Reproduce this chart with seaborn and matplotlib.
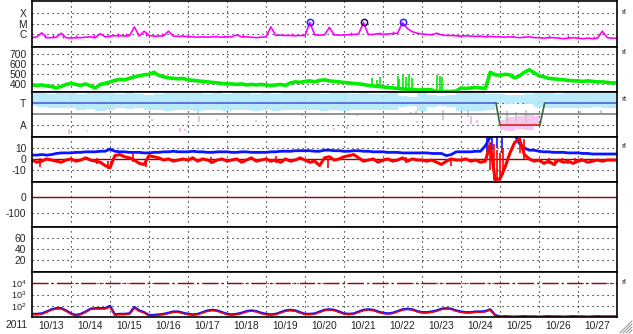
import numpy as np
import matplotlib
matplotlib.use("Agg")
import matplotlib.pyplot as plt
import seaborn as sns
from matplotlib.lines import Line2D
from matplotlib.ticker import NullLocator

# ---------------- data (hours since 2011-10-13 00:00, 3-hour samples) ----------------
hours3 = np.arange(0, 361, 3)
hours6 = np.arange(0, 361, 6)
day_labels = ["10/13", "10/14", "10/15", "10/16", "10/17", "10/18", "10/19", "10/20",
              "10/21", "10/22", "10/23", "10/24", "10/25", "10/26", "10/27"]
year_label = "2011"

# GOES X-ray flux (1e-6 W/m^2)
xray_uW = [0.5, 0.6, 1.4, 0.5, 0.5, 0.55, 1.3, 0.5,
           0.45, 0.5, 0.5, 0.55, 0.6, 0.5, 1.2, 0.6,
           0.7, 0.75, 0.8, 0.7, 0.75, 5.0, 0.7, 2.0,
           0.8, 0.7, 0.7, 0.75, 2.0, 0.7, 0.65, 0.7,
           0.6, 0.6, 0.55, 0.6, 0.55, 0.6, 0.6, 0.55,
           0.6, 0.6, 0.9, 0.6, 0.6, 0.55, 0.5, 0.55,
           0.6, 5.0, 0.8, 0.85, 0.8, 0.8, 0.75, 0.8,
           0.8, 13.0, 0.9, 0.85, 0.9, 4.5, 0.9, 0.85,
           0.9, 0.95, 1.0, 1.1, 13.0, 0.95, 1.0, 1.2,
           1.0, 1.1, 1.2, 1.3, 13.0, 3.5, 1.8, 1.3,
           1.1, 1.0, 0.9, 1.3, 0.9, 0.8, 0.8, 0.75,
           0.7, 0.75, 0.7, 0.65, 0.7, 0.6, 0.65, 0.6,
           0.6, 0.55, 0.6, 0.55, 0.5, 0.55, 0.6, 0.5,
           0.5, 0.45, 0.5, 0.5, 0.45, 0.4, 0.45, 0.5,
           0.45, 0.4, 0.45, 0.4, 0.45, 2.0, 0.5, 0.45,
           0.45]
xray_spk_hours = [8, 13, 19, 27, 38, 53, 58, 70, 80, 96, 118, 130, 160, 185, 196, 214, 222,
                  246, 262, 280, 296, 318, 330, 346]
xray_spk_lo = [0.5, 0.5, 0.5, 0.5, 0.5, 0.6, 0.7, 0.7, 0.7, 0.6, 0.6, 0.6, 0.8, 0.9, 0.95, 1.1, 1.2,
               0.9, 0.7, 0.65, 0.55, 0.5, 0.45, 0.45]
xray_spk_hi = [1.1, 1.2, 0.9, 0.9, 1.0, 1.3, 1.5, 1.6, 1.3, 1.0, 0.9, 1.0, 1.5, 1.5, 1.6, 1.8, 2.0,
               1.5, 1.1, 1.0, 0.9, 0.8, 0.8, 0.75]
flare_hours = [171, 204, 228]
flare_peaks = [13.0, 13.0, 13.0]
flare_colors = ["#2020ff", "#101060", "#2020ff"]

# Solar wind speed (km/s)
speed = [390, 385, 390, 380, 375, 360, 375, 395,
         405, 395, 385, 400, 380, 360, 395, 405,
         420, 435, 445, 440, 455, 470, 480, 490,
         495, 515, 485, 470, 460, 455, 450, 455,
         440, 435, 430, 425, 420, 415, 410, 405,
         400, 400, 395, 400, 390, 395, 390, 395,
         390, 385, 390, 395, 385, 410, 420, 415,
         425, 430, 420, 435, 440, 430, 425, 420,
         415, 410, 405, 400, 395, 385, 380, 375,
         370, 365, 360, 355, 350, 345, 345, 340,
         340, 345, 340, 325, 325, 325, 325, 330,
         360, 355, 360, 365, 360, 355, 515, 490,
         485, 495, 490, 460, 480, 515, 540, 510,
         480, 470, 455, 450, 445, 440, 435, 430,
         430, 425, 430, 425, 420, 420, 415, 410,
         410]
speed_spike_hours = [209, 212, 214, 225, 226, 228, 230, 232, 234, 249, 251, 252]
speed_spike_low = [370, 365, 365, 355, 355, 355, 350, 350, 350, 340, 340, 340]
speed_spike_high = [460, 440, 470, 480, 450, 490, 470, 500, 460, 490, 480, 470]

# Plasma region panel (T / A levels)
band_top = [3.85, 3.85, 3.8, 3.85, 3.85, 3.8, 3.85, 3.85, 3.85, 3.8, 3.85, 3.8,
            3.7, 3.8, 3.85, 3.85, 3.85, 3.85, 3.8, 3.85, 3.8, 3.85, 3.85, 3.8,
            3.85, 3.8, 3.85, 3.85, 3.85, 3.85, 3.8, 3.85, 3.85, 3.8, 3.85, 3.8,
            3.8, 3.85, 3.6, 3.5, 3.85, 3.7, 3.6, 3.7, 3.85, 3.85, 3.85, 3.8,
            3.8, 3.7, 3.7, 3.75, 3.85, 3.85, 3.8, 3.85, 3.85, 3.85, 3.85, 3.85,
            3.85]
band_bot = [2.7, 2.6, 2.5, 2.55, 2.5, 2.4, 2.45, 2.3, 2.4, 2.5, 2.45, 2.5,
            2.35, 2.4, 2.3, 2.4, 2.4, 2.3, 2.35, 2.4, 2.3, 2.4, 2.35, 2.3,
            2.35, 2.3, 2.4, 2.35, 2.4, 2.35, 2.3, 2.4, 2.3, 2.4, 2.35, 2.4,
            2.4, 2.35, 2.6, 2.7, 2.3, 2.6, 2.7, 2.6, 2.3, 2.25, 2.3, 2.4,
            3.0, 2.9, 3.0, 2.9, 2.6, 2.5, 2.55, 2.5, 2.55, 2.5, 2.6, 2.55,
            2.55]
state_hours = [0, 285.5, 288, 312.5, 315.5, 360]
state_level = [3, 3, 1, 1, 3, 3]
state_colors = ["#4a62d8", "#2f6b3a", "#e02020", "#2f6b3a", "#4a62d8"]
pink_hours = [288, 294, 300, 306, 312]
pink_lo = [0.6, 0.5, 0.7, 0.6, 0.9]
pink_hi = [1.5, 1.7, 1.8, 1.9, 1.8]
pink_spk_hours = [23, 34, 74, 91, 94, 103, 114, 138, 186, 194, 212, 237, 270, 274]
pink_spk_lo = [0.2, 0.4, 1.4, 0.4, 0.5, 1.3, 1.4, 1.25, 0.55, 0.7, 0.3, 1.2, 1.1, 1.2]
pink_spk_hi = [0.65, 0.5, 1.6, 0.8, 0.7, 1.8, 1.6, 1.45, 0.75, 0.9, 0.5, 1.35, 1.8, 1.5]
gray_spk_hours = [102, 166, 200, 233, 236, 253, 268, 292, 298, 304, 337, 350]
gray_spk_lo = [2.0, 1.8, 1.8, 1.9, 2.0, 1.5, 1.7, 1.1, 1.3, 1.2, 1.9, 2.1]
gray_spk_hi = [2.3, 2.0, 2.0, 2.2, 2.3, 2.4, 2.4, 2.3, 2.2, 2.4, 2.3, 2.4]

# IMF Bz (red) and Bt (blue), nT
bz = [-1, -3, -2, 0, -1, -2, -3, -1,
      0, -2, -1, 1, -1, -2, -3, -6,
      -8, 3, 4, 2, 1, -1, -4, -5,
      3, 2, 1, -1, 0, -2, -1, 0,
      -1, 1, -2, 0, -1, -3, -1, 0,
      -2, -1, 0, -3, -1, 1, -2, -1,
      0, -2, -1, -3, 0, -2, -1, 1,
      -1, -3, -2, -6, 1, 2, -1, 0,
      2, 3, 4, 1, -2, -1, 0, -3,
      -1, 0, -2, -1, 1, -2, 0, -1,
      -1, -2, -1, -3, -5, -2, 0, -1,
      -1, 0, -2, -1, -3, -2, 14, -19,
      -18, -8, 5, 15, 18, 4, 0, -2,
      -1, -4, -2, -5, -1, -3, -2, -4,
      -2, -1, -3, -2, -1, -2, -1, -1,
      -1]
bt = [3.5, 3.5, 4, 3.5, 4, 5, 5.5, 5.5,
      5.5, 6, 6, 6.5, 6.5, 6.5, 7, 7,
      9, 7, 6.5, 6.5, 6, 6, 6, 5.5,
      5.5, 6, 6, 6.5, 6.5, 7, 6.5, 6.5,
      6.5, 7, 6.5, 6.5, 6, 6, 6.5, 6.5,
      6.5, 6, 6, 6.5, 6.5, 6, 6, 6,
      6, 6.5, 6.5, 7, 7, 7, 7.5, 7.5,
      7.5, 7.5, 7, 7, 8, 8, 7.5, 7.5,
      7, 7, 7.5, 7.5, 7, 7, 6.5, 6.5,
      6.5, 6, 6, 6, 5.5, 5.5, 5.5, 5.5,
      5.5, 5.5, 5, 5, 5, 3, 4, 6.5,
      6.5, 6.5, 6.5, 7, 7, 12, 20, 22,
      22, 22, 22, 22, 14, 10, 8, 8,
      7, 6.5, 6.5, 6, 6, 6, 5.5, 5.5,
      5.5, 5, 5, 4.5, 4.5, 4.5, 4.5, 4.5,
      4.5]
bz_spk_hours = [5, 40, 47, 62, 70, 110, 150, 182, 230, 258, 282, 284, 286, 288, 290, 300, 303,
                318, 322, 326, 330, 334, 338]
bz_spk_lo = [-7, -5, -9, -3, -7, -5, -4, -8, -4, -6, -10, -19, -17, -20, -15, 5, 0,
             -5, -6, -4, -5, -4, -3]
bz_spk_hi = [1, 1, -2, 5, -2, 2, 3, 0, 2, 0, 10, 14, 8, 5, 10, 19, 18,
             1, 0, 1, 0, 1, 1]
bt_spk_hours = [280, 283, 286, 289]
bt_spk_lo = [6, 8, 10, 5]
bt_spk_hi = [20, 20, 20, 20]

# Dst reference, panel-6 (empty), electron flux threshold
dst_ref = 0
eflux_threshold = 1e4

# >2 MeV electron flux (two satellites)
e_blue = [20, 20, 22, 32, 50, 63, 63, 40,
          22, 16, 20, 32, 56, 63, 63, 63,
          100, 18, 20, 20, 22, 79, 40, 28,
          16, 16, 18, 20, 25, 32, 32, 25,
          20, 18, 20, 28, 40, 45, 40, 28,
          20, 18, 20, 25, 35, 40, 35, 25,
          20, 18, 20, 28, 40, 45, 40, 28,
          20, 20, 22, 32, 45, 50, 45, 32,
          22, 20, 22, 32, 45, 50, 45, 32,
          25, 22, 25, 35, 50, 56, 50, 35,
          28, 28, 32, 40, 56, 63, 56, 40,
          32, 28, 28, 32, 32, 35, 50, 16,
          12, 12.5, 12, 11.5, 12, 12.5, 12, 12,
          11.5, 12, 12.5, 12, 12, 11.5, 12, 12.5,
          12, 12, 11.5, 12, 12.5, 12, 12, 12,
          12]
e_red = [18, 17, 20, 28, 45, 56, 56, 35,
         20, 14, 18, 28, 50, 56, 56, 56,
         80, 16, 18, 18, 20, 63, 35, 25,
         14, 14, 16, 18, 22, 28, 28, 22,
         18, 16, 18, 25, 35, 40, 35, 25,
         18, 16, 18, 22, 32, 35, 32, 22,
         18, 16, 18, 25, 35, 40, 35, 25,
         18, 18, 20, 28, 40, 45, 40, 28,
         20, 18, 20, 28, 40, 45, 40, 28,
         22, 20, 22, 32, 45, 50, 45, 32,
         25, 25, 28, 35, 50, 56, 50, 35,
         28, 25, 25, 28, 28, 32, 45, 14,
         11.5, 11, 11.5, 11, 11.5, 11, 11.5, 11,
         11, 11.5, 11, 11.5, 11, 11, 11.5, 11,
         11.5, 11, 11, 11.5, 11, 11.5, 11, 11,
         11]

# ---------------- style ----------------
sns.set_style("white")
plt.rcParams["font.family"] = ["Liberation Sans", "DejaVu Sans"]
plt.rcParams["axes.unicode_minus"] = False
plt.rcParams["mathtext.fontset"] = "custom"
plt.rcParams["mathtext.rm"] = "Liberation Sans"
plt.rcParams["mathtext.it"] = "Liberation Sans"
plt.rcParams["mathtext.default"] = "regular"

W, H = 633, 334
fig = plt.figure(figsize=(W / 100, H / 100), dpi=100)
bounds = [1, 47, 92, 137, 182, 227, 272, 317]
X0, X1 = 32, 617
axes = []
for i in range(7):
    top, bot = bounds[i], bounds[i + 1]
    ax = fig.add_axes([X0 / W, 1 - bot / H, (X1 - X0) / W, (bot - top) / H])
    axes.append(ax)

DOT = (0, (1, 3.5))
FS = 7.4
day_mid = [12 + 24 * k for k in range(len(day_labels))]
day_edge = [24 * k for k in range(1, 15)]


def base(ax, yticks, ylabels, log=False, fs=FS):
    ax.set_xlim(0, 360)
    if log:
        ax.set_yscale("log")
    ax.set_yticks(yticks)
    ax.set_yticklabels(ylabels)
    ax.yaxis.set_minor_locator(NullLocator())
    ax.set_xticks(day_mid)
    ax.set_xticks(day_edge, minor=True)
    ax.tick_params(which="both", length=0, labelsize=FS, pad=4)
    ax.tick_params(axis="y", labelsize=fs)
    ax.tick_params(axis="x", labelbottom=False)
    ax.grid(False)
    ax.grid(True, which="minor", axis="x", color="k", linestyle=DOT, linewidth=0.8)
    ax.grid(True, which="major", axis="y", color="k", linestyle=DOT, linewidth=0.8)
    ax.set_axisbelow(True)
    for s in ax.spines.values():
        s.set_visible(True)
        s.set_color("k")
        s.set_linewidth(1.2)
    ax.set_xlabel("")
    ax.set_ylabel("")


# Panel 1: X-ray
ax = axes[0]
sns.lineplot(x=hours3, y=xray_uW, ax=ax, color="#ff00ff", linewidth=1.2, estimator=None, sort=False)
ax.vlines(xray_spk_hours, xray_spk_lo, xray_spk_hi, color="#ff00ff", linewidth=1.0)
for h, p, c in zip(flare_hours, flare_peaks, flare_colors):
    ax.plot([h], [p], marker="o", ms=4.5, mfc="none", mec=c, mew=1.1)
base(ax, [1, 10, 100], ["C", "M", "X"], log=True)
ax.set_ylim(10 ** -1.17, 10 ** 3.11)

# Panel 2: speed
ax = axes[1]
sns.lineplot(x=hours3, y=speed, ax=ax, color="#00ee00", linewidth=2.6, estimator=None, sort=False)
ax.vlines(speed_spike_hours, speed_spike_low, speed_spike_high, color="#00ee00", linewidth=1.2)
base(ax, [700, 600, 500, 400], ["700", "600", "500", "400"])
ax.set_ylim(320, 765)

# Panel 3: region T/A
ax = axes[2]
ax.fill_between(hours6, band_bot, band_top, step="mid", color="#b2e9fa", alpha=0.9, linewidth=0)
ax.fill_between(pink_hours, pink_lo, pink_hi, step="mid", color="#f6bdf0", alpha=0.85, linewidth=0)
ax.vlines(pink_spk_hours, pink_spk_lo, pink_spk_hi, color="#f4b8f0", linewidth=1.4)
ax.vlines(gray_spk_hours, gray_spk_lo, gray_spk_hi, color="#cccccc", linewidth=1.4)
ax.axhline(2, color="#808080", linewidth=1.2)
for k in range(len(state_colors)):
    sns.lineplot(x=state_hours[k:k + 2], y=state_level[k:k + 2], ax=ax, color=state_colors[k],
                 linewidth=1.2, estimator=None, sort=False)
base(ax, [3, 1], ["T", "A"])
ax.set_ylim(-0.04, 3.96)

# Panel 4: IMF
ax = axes[3]
ax.axhline(0, color="#a00000", linewidth=1.0, zorder=1.5)
sns.lineplot(x=hours3, y=bt, ax=ax, color="#0a14ff", linewidth=2.0, estimator=None, sort=False)
ax.vlines(bt_spk_hours, bt_spk_lo, bt_spk_hi, color="#0a14ff", linewidth=1.2)
sns.lineplot(x=hours3, y=bz, ax=ax, color="#ff0000", linewidth=2.2, estimator=None, sort=False)
ax.vlines(bz_spk_hours, bz_spk_lo, bz_spk_hi, color="#ff0000", linewidth=1.2)
base(ax, [10, 0, -10], ["10", "0", "-10"])
ax.set_ylim(-21, 20)

# Panel 5: Dst
ax = axes[4]
ax.axhline(dst_ref, color="#a00000", linewidth=1.0)
base(ax, [0, -100], ["0", "-100"])
ax.set_ylim(-188, 94)

# Panel 6: empty
ax = axes[5]
base(ax, [60, 40, 20], ["60", "40", "20"])
ax.set_ylim(-2, 80)

# Panel 7: electron flux
ax = axes[6]
ax.axhline(eflux_threshold, color="#a00000", linewidth=1.0, dashes=(11, 2.5, 1.5, 2.5))
sns.lineplot(x=hours3, y=e_blue, ax=ax, color="#0a14ff", linewidth=1.8, estimator=None, sort=False)
sns.lineplot(x=hours3, y=e_red, ax=ax, color="#ff0000", linewidth=1.0, estimator=None, sort=False)
base(ax, [1e4, 1e3, 1e2], [r"$10^4$", r"$10^3$", r"$10^2$"], log=True, fs=6.6)
ax.set_ylim(10 ** 1.04, 10 ** 4.96)
ax.tick_params(axis="x", labelbottom=True, labelsize=FS, pad=3)
ax.set_xticklabels(day_labels)

fig.text(16 / W, 1 - 325 / H, year_label, ha="center", va="center", fontsize=FS)

# right-side markers
for yy, t in zip([12, 53, 100, 147, 282], ["rl", "rl", "rt", "rl", "rl"]):
    fig.text(621 / W, 1 - yy / H, t, ha="left", va="center", fontsize=6)

# resize grip
for k in range(4):
    a = 3 * k
    fig.add_artist(Line2D([(632 - 12 + a) / W, 632 / W], [1 - 333 / H, 1 - (333 - 12 + a) / H],
                          color="#999999", linewidth=0.8))

fig.savefig("out.png", dpi=100)
